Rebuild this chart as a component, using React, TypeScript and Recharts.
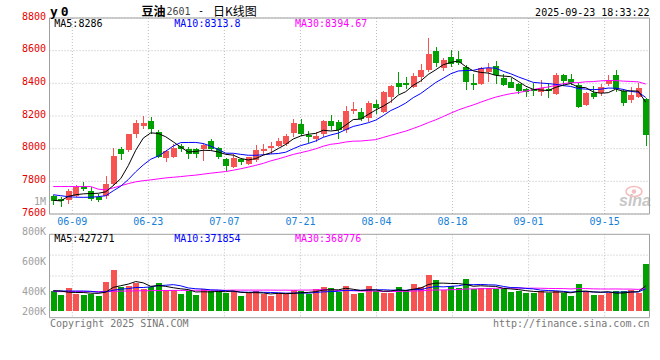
import React from 'react';
import { ComposedChart, Bar, Line, XAxis, YAxis, CartesianGrid, ReferenceArea, Cell } from 'recharts';

// ---------- data ----------
const opens = [
  7708, 7690, 7684, 7713, 7772, 7743, 7706, 7711, 7785, 8000,
  7989, 8092, 8139, 8170, 8102, 7944, 7952, 8016, 7995, 7995,
  7995, 8045, 8006, 7934, 7887, 7938, 7907, 7928, 7985, 8006,
  8016, 8026, 8096, 8153, 8084, 8061, 8092, 8170, 8162, 8112,
  8231, 8225, 8188, 8276, 8225, 8317, 8403, 8403, 8375, 8440,
  8480, 8600, 8492, 8559, 8548, 8502, 8399, 8394, 8467, 8506,
  8434, 8407, 8395, 8364, 8364, 8348, 8364, 8334, 8451, 8426,
  8389, 8270, 8342, 8342, 8395, 8451, 8354, 8297, 8317, 8307,
];
const highs = [
  7717, 7702, 7754, 7778, 7797, 7765, 7725, 7833, 8004, 8010,
  8092, 8174, 8198, 8192, 8112, 7990, 8026, 8030, 8010, 8006,
  8032, 8060, 8012, 7944, 7965, 7944, 7952, 8020, 8026, 8040,
  8065, 8092, 8180, 8180, 8106, 8104, 8178, 8205, 8174, 8260,
  8284, 8251, 8293, 8297, 8354, 8389, 8469, 8440, 8463, 8516,
  8676, 8625, 8557, 8604, 8600, 8512, 8455, 8500, 8522, 8537,
  8455, 8430, 8399, 8369, 8400, 8420, 8403, 8461, 8457, 8457,
  8403, 8348, 8383, 8395, 8451, 8481, 8364, 8375, 8400, 8313,
];
const lows = [
  7655, 7645, 7659, 7702, 7739, 7677, 7671, 7692, 7774, 7928,
  7982, 8065, 8118, 8092, 7940, 7920, 7944, 7979, 7938, 7940,
  7924, 7990, 7938, 7866, 7880, 7897, 7897, 7917, 7959, 7968,
  8010, 8016, 8071, 8076, 8034, 8040, 8071, 8117, 8061, 8096,
  8215, 8170, 8164, 8215, 8219, 8280, 8334, 8365, 8369, 8409,
  8470, 8502, 8477, 8502, 8512, 8358, 8358, 8389, 8410, 8394,
  8383, 8369, 8332, 8315, 8321, 8321, 8313, 8328, 8383, 8389,
  8250, 8264, 8305, 8325, 8383, 8348, 8264, 8280, 8313, 8014,
];
const closes = [
  7682, 7677, 7739, 7768, 7751, 7692, 7684, 7785, 7958, 7965,
  8088, 8157, 8155, 8118, 7948, 7985, 8003, 7995, 7965, 7968,
  8020, 7995, 7950, 7893, 7944, 7918, 7948, 7994, 7997, 8018,
  8047, 8075, 8160, 8088, 8071, 8075, 8170, 8137, 8112, 8229,
  8243, 8184, 8280, 8248, 8348, 8383, 8379, 8387, 8444, 8481,
  8580, 8522, 8543, 8516, 8522, 8409, 8391, 8496, 8496, 8451,
  8389, 8372, 8352, 8350, 8352, 8369, 8356, 8451, 8416, 8403,
  8256, 8342, 8317, 8379, 8420, 8364, 8280, 8328, 8369, 8081,
];
const priceMa5 = [
  7684, 7680, 7708, 7718, 7723.4, 7725.4, 7726.8, 7736, 7774, 7816.8,
  7896, 7990.6, 8064.6, 8096.6, 8093.2, 8072.6, 8041.8, 8009.8, 7979.2, 7983.2,
  7990.2, 7988.6, 7979.6, 7965.2, 7960.4, 7940, 7930.6, 7939.4, 7960.2, 7975,
  8000.8, 8026.2, 8059.4, 8077.6, 8088.2, 8093.8, 8112.8, 8108.2, 8113, 8144.6,
  8178.2, 8181, 8209.6, 8236.8, 8260.6, 8288.6, 8327.6, 8349, 8388.2, 8414.8,
  8454.2, 8482.8, 8514, 8528.4, 8536.6, 8502.4, 8476.2, 8466.8, 8462.8, 8448.6,
  8444.6, 8440.8, 8412, 8382.8, 8363, 8359, 8355.8, 8375.6, 8388.8, 8399,
  8376.4, 8373.6, 8346.8, 8339.4, 8342.8, 8364.4, 8352, 8354.2, 8352.2, 8284.4,
];
const priceMa10 = [
  7718, 7712, 7706, 7703, 7702, 7703, 7706, 7712, 7742, 7770.1,
  7810.7, 7858.7, 7900.3, 7935.3, 7955, 7984.3, 8016.2, 8037.2, 8037.9, 8038.2,
  8031.4, 8015.2, 7994.7, 7972.2, 7971.8, 7965.1, 7959.6, 7959.5, 7962.7, 7967.7,
  7970.4, 7978.4, 7999.4, 8018.9, 8031.6, 8047.3, 8069.5, 8083.8, 8095.3, 8116.4,
  8136, 8146.9, 8158.9, 8174.9, 8202.6, 8233.4, 8254.3, 8279.3, 8312.5, 8337.7,
  8371.4, 8405.2, 8431.5, 8458.3, 8475.7, 8478.3, 8479.5, 8490.4, 8495.6, 8492.6,
  8473.5, 8458.5, 8439.4, 8422.8, 8405.8, 8401.8, 8398.3, 8393.8, 8385.8, 8381,
  8367.7, 8364.7, 8361.2, 8364.1, 8370.9, 8370.4, 8362.8, 8350.5, 8345.8, 8313.6,
];
const priceMa30 = [
  7768, 7768, 7768, 7768, 7768, 7768, 7752, 7748, 7760, 7773,
  7786, 7797, 7804, 7809, 7815, 7821, 7825, 7829, 7834, 7838,
  7844, 7850, 7855, 7860, 7868, 7877, 7887, 7898, 7910, 7925.3,
  7937.5, 7950.8, 7964.8, 7975.5, 7986.1, 7998.9, 8015.1, 8026.8, 8032, 8040.8,
  8045.9, 8046.8, 8051, 8055.3, 8068.7, 8081.9, 8094.5, 8107.5, 8123.5, 8140.6,
  8159.3, 8176.8, 8196.6, 8217.4, 8236.6, 8253, 8267.8, 8284.5, 8301.1, 8315.6,
  8327, 8336.9, 8343.3, 8352, 8361.4, 8371.2, 8377.4, 8387.8, 8398, 8403.8,
  8404.2, 8409.5, 8410.7, 8415.1, 8417.5, 8416.8, 8413.5, 8411.6, 8409.1, 8395.7,
];
const volumes = [
  373000, 344000, 390000, 350000, 344000, 350000, 337000, 430000, 510000, 399000,
  404000, 422000, 386000, 395000, 424000, 377000, 377000, 350000, 370000, 344000,
  384000, 370000, 370000, 359000, 370000, 337000, 359000, 370000, 348000, 337000,
  359000, 348000, 377000, 370000, 350000, 385000, 399000, 388000, 366000, 404000,
  350000, 359000, 404000, 370000, 359000, 359000, 397000, 377000, 417000, 397000,
  477000, 444000, 377000, 406000, 393000, 450000, 382000, 393000, 393000, 386000,
  382000, 366000, 370000, 359000, 359000, 370000, 355000, 373000, 355000, 337000,
  417000, 366000, 344000, 344000, 355000, 370000, 370000, 377000, 355000, 553000,
];
const volMa5 = [
  372000, 370000, 362000, 360000, 360200, 355600, 354200, 362200, 394200, 405200,
  416000, 433000, 424200, 401200, 406200, 400800, 391800, 384600, 379600, 363600,
  365000, 363600, 367600, 365400, 370600, 361200, 359000, 359000, 356800, 350200,
  354600, 352400, 353800, 358200, 360800, 366000, 376200, 378400, 377600, 388400,
  381400, 373400, 376600, 377400, 368400, 370200, 377800, 372400, 381800, 389400,
  413000, 422400, 422400, 420200, 419400, 414000, 401600, 404800, 402200, 400800,
  387200, 384000, 379400, 372600, 367200, 364800, 362600, 363200, 362400, 358000,
  367400, 369600, 363800, 361600, 365200, 355800, 356600, 363200, 365400, 405000,
];
const volMa10 = [
  370000, 370000, 370000, 370000, 370000, 368000, 362000, 365000, 375000, 382700,
  385800, 393600, 393200, 397700, 405700, 408400, 412400, 404400, 390400, 384900,
  382900, 377700, 376100, 372500, 367100, 363100, 361300, 363300, 361100, 360400,
  357900, 355700, 356400, 357500, 355500, 360300, 364300, 366100, 367900, 374600,
  373700, 374800, 377500, 377500, 378400, 375800, 375600, 374500, 379600, 378900,
  391600, 400100, 397400, 401000, 404400, 413500, 412000, 413600, 411200, 410100,
  400600, 392800, 392100, 387400, 384000, 376000, 373300, 371300, 367500, 362600,
  366100, 366100, 363500, 362000, 361600, 361600, 363100, 363500, 363500, 385100,
];
const volMa30 = [
  366000, 366000, 366000, 366000, 366000, 366000, 366000, 366000, 368000, 369000,
  370000, 371000, 372000, 372000, 373000, 373000, 374000, 374000, 374000, 375000,
  375000, 375000, 375000, 375000, 376000, 376000, 376000, 376000, 376000, 376000,
  375500, 375700, 375200, 375900, 376100, 377300, 379300, 377900, 373100, 373300,
  371500, 369400, 370000, 369200, 367000, 366400, 367100, 368000, 369500, 371300,
  374400, 376900, 377100, 378700, 379400, 383200, 384000, 384700, 386200, 387900,
  388600, 389200, 389000, 388600, 388900, 388400, 387000, 386500, 386100, 383900,
  386100, 386300, 384300, 383500, 383300, 383700, 382800, 382800, 380700, 385900,
];
// date labels and their positions on the index axis (in candle units)
const dateTickLabels = ['06-09', '06-23', '07-07', '07-21', '08-04', '08-18', '09-01', '09-15'];
const dateTickPos = [3.04, 13.18, 23.32, 33.46, 43.6, 53.74, 63.88, 74.02];
const priceTicks = [7600, 7800, 8000, 8200, 8400, 8600, 8800];
const volTicks = [1000000, 800000, 600000, 400000, 200000];
const volTickLabels = ['1M', '800K', '600K', '400K', '200K'];
const VOL_FLOOR = 239000;
const PRICE_DOMAIN: [number, number] = [7600, 8800];
const VOL_DOMAIN: [number, number] = [192000, 748000];

// ---------- styles ----------
const RED = '#f65353';
const GREEN = '#00a000';
const MA5_C = '#000000';
const MA10_C = '#0000ff';
const MA30_C = '#ff00ff';
const GRID_C = '#bdbdbd';
const BORDER_C = '#a0a0a0';
const DATE_C = '#1580d8';
const MONO = '"DejaVu Sans Mono", "Liberation Mono", monospace';
const CJK = '"Noto Sans CJK SC", "Noto Sans", sans-serif';
const VOL_SVG_TOP = 190;
const VOL_LABEL_MAX_Y = 121;

const rows = closes.map((c, i) => ({
  x: i + 0.5,
  open: opens[i],
  high: highs[i],
  low: lows[i],
  close: c,
  range: [lows[i], highs[i]],
  ma5: priceMa5[i],
  ma10: priceMa10[i],
  ma30: priceMa30[i],
  vol: volumes[i],
  vrange: [VOL_FLOOR, volumes[i]],
  vma5: volMa5[i],
  vma10: volMa10[i],
  vma30: volMa30[i],
  up: c >= opens[i],
}));

function Candle(props: any) {
  const { x, y, width, height, payload } = props;
  if (x == null || y == null || !payload) return null;
  const top = Math.min(y, y + height);
  const h = Math.abs(height);
  const { open, close, high, low } = payload;
  const color = close >= open ? RED : GREEN;
  const span = high - low || 1;
  const py = (v: number) => top + ((high - v) / span) * h;
  const bTop = py(Math.max(open, close));
  const bBot = py(Math.min(open, close));
  const cx = x + width / 2;
  return (
    <g shapeRendering="crispEdges">
      <line x1={cx} x2={cx} y1={top} y2={top + h} stroke={color} strokeWidth={1} />
      <rect x={x} y={bTop} width={width} height={Math.max(bBot - bTop, 1)} fill={color} />
    </g>
  );
}

const PriceTick = (p: any) => (
  <text x={p.x} y={p.y - 2} textAnchor="end" dominantBaseline="central" fill="#e60000" fontSize={10} fontFamily={MONO}>
    {p.payload.value}
  </text>
);

const DateTick = (p: any) => {
  const idx = dateTickPos.indexOf(p.payload.value);
  return (
    <text x={p.x} y={p.y + 7} textAnchor="middle" dominantBaseline="central" fill={DATE_C} fontSize={10} fontFamily={MONO}>
      {dateTickLabels[idx]}
    </text>
  );
};

const VolTick = (p: any) => {
  const idx = volTicks.indexOf(p.payload.value);
  const cy = Math.min(p.y + 4.5, VOL_LABEL_MAX_Y);
  return (
    <text x={p.x} y={cy} textAnchor="end" dominantBaseline="central" fill="#a0a0a0" fontSize={10} fontFamily={MONO}>
      {volTickLabels[idx]}
    </text>
  );
};

const quarterLines = ({ offset }: any) => [0.25, 0.5, 0.75].map((f) => offset.top + offset.height * f);

export default function App() {
  return (
    <div style={{ position: 'absolute', left: 0, top: 0, width: 660, height: 360, background: '#fff', overflow: 'hidden' }}>
      <div style={{ position: 'absolute', left: 0, top: 0 }}>
        <ComposedChart width={660} height={232} data={rows} margin={{ top: 18, right: 10.5, left: 0, bottom: 0 }}>
          <CartesianGrid stroke={GRID_C} strokeDasharray="1 2" />
          <XAxis
            type="number"
            dataKey="x"
            domain={[0, 80]}
            ticks={dateTickPos}
            interval={0}
            allowDataOverflow
            height={18}
            tickSize={0}
            tickMargin={0}
            tickLine={false}
            axisLine={false}
            tick={DateTick}
          />
          <YAxis
            domain={PRICE_DOMAIN}
            ticks={priceTicks}
            interval={0}
            allowDataOverflow
            width={49.5}
            tickSize={0}
            tickMargin={3.5}
            tickLine={false}
            axisLine={false}
            tick={PriceTick}
          />
          <ReferenceArea x1={0} x2={80} y1={PRICE_DOMAIN[0]} y2={PRICE_DOMAIN[1]} fill="none" stroke={BORDER_C} strokeWidth={1} />
          <Bar dataKey="range" barSize={6} shape={Candle} isAnimationActive={false} />
          <Line type="linear" dataKey="ma30" stroke={MA30_C} strokeWidth={1} dot={false} isAnimationActive={false} />
          <Line type="linear" dataKey="ma10" stroke={MA10_C} strokeWidth={1} dot={false} isAnimationActive={false} />
          <Line type="linear" dataKey="ma5" stroke={MA5_C} strokeWidth={1} dot={false} isAnimationActive={false} />
        </ComposedChart>
      </div>
      <div style={{ position: 'absolute', left: 0, top: VOL_SVG_TOP }}>
        <ComposedChart width={660} height={150} data={rows} margin={{ top: 44.3, right: 10.5, left: 0, bottom: 22.3 }}>
          <CartesianGrid stroke={GRID_C} strokeDasharray="1 2" horizontalCoordinatesGenerator={quarterLines} />
          <XAxis hide type="number" dataKey="x" domain={[0, 80]} ticks={dateTickPos} interval={0} allowDataOverflow />
          <YAxis
            domain={VOL_DOMAIN}
            ticks={volTicks}
            interval={0}
            allowDataOverflow
            width={49.5}
            tickSize={0}
            tickMargin={3.5}
            tickLine={false}
            axisLine={false}
            tick={VolTick}
          />
          <ReferenceArea x1={0} x2={80} y1={VOL_DOMAIN[0]} y2={VOL_DOMAIN[1]} fill="none" stroke={BORDER_C} strokeWidth={1} />
          <Bar dataKey="vrange" barSize={6} isAnimationActive={false} shapeRendering="crispEdges">
            {rows.map((r, i) => (
              <Cell key={i} fill={r.up ? RED : GREEN} />
            ))}
          </Bar>
          <Line type="linear" dataKey="vma30" stroke={MA30_C} strokeWidth={1} dot={false} isAnimationActive={false} />
          <Line type="linear" dataKey="vma10" stroke={MA10_C} strokeWidth={1} dot={false} isAnimationActive={false} />
          <Line type="linear" dataKey="vma5" stroke={MA5_C} strokeWidth={1} dot={false} isAnimationActive={false} />
        </ComposedChart>
      </div>
      <svg width={660} height={360} style={{ position: 'absolute', left: 0, top: 0, pointerEvents: 'none' }}>
        <text x={50} y={11.5} dominantBaseline="central" fontSize={13} fontWeight="bold" fontFamily={MONO} letterSpacing={3} fill="#000">y0</text>
        <text x={141.5} y={10.5} dominantBaseline="central" fontSize={12} fontFamily={CJK} fontWeight="bold" fill="#000">豆油</text>
        <text x={166.5} y={11} dominantBaseline="central" fontSize={10} fontFamily={MONO} fill="#444">2601</text>
        <text x={198} y={10.5} dominantBaseline="central" fontSize={10} fontFamily={MONO} fill="#000">-</text>
        <text x={213} y={10.5} dominantBaseline="central" fontSize={12} fontFamily={CJK} fill="#000">日K线图</text>
        <text x={649.5} y={12} textAnchor="end" dominantBaseline="central" fontSize={10} fontFamily={MONO} fill="#000">2025-09-23 18:33:22</text>

        <text x={54.3} y={23.7} dominantBaseline="central" fontSize={10} fontFamily={MONO} fill={MA5_C}>MA5:8286</text>
        <text x={174.3} y={23.7} dominantBaseline="central" fontSize={10} fontFamily={MONO} fill={MA10_C}>MA10:8313.8</text>
        <text x={295} y={23.7} dominantBaseline="central" fontSize={10} fontFamily={MONO} fill={MA30_C}>MA30:8394.67</text>

        <text x={54.3} y={238.3} dominantBaseline="central" fontSize={10} fontFamily={MONO} fill={MA5_C}>MA5:427271</text>
        <text x={174.3} y={238.3} dominantBaseline="central" fontSize={10} fontFamily={MONO} fill={MA10_C}>MA10:371854</text>
        <text x={295} y={238.3} dominantBaseline="central" fontSize={10} fontFamily={MONO} fill={MA30_C}>MA30:368776</text>

        <text x={50} y={323.3} dominantBaseline="central" fontSize={10} fontFamily={MONO} fill="#777">Copyright 2025 SINA.COM</text>
        <text x={649.5} y={323.3} textAnchor="end" dominantBaseline="central" fontSize={10} fontFamily={MONO} fill="#777">http://finance.sina.com.cn</text>

        <g opacity={0.55}>
          <ellipse cx={634} cy={191.5} rx={8} ry={5} fill="none" stroke="#ef8a8a" strokeWidth={1.6} />
          <circle cx={634} cy={191.5} r={2.2} fill="#ef8a8a" />
          <text x={619} y={206} fontSize={16} fontWeight="bold" fontStyle="italic" fontFamily='"Liberation Sans", Arial, sans-serif' fill="#9a9a9a">sina</text>
        </g>
      </svg>
    </div>
  );
}
